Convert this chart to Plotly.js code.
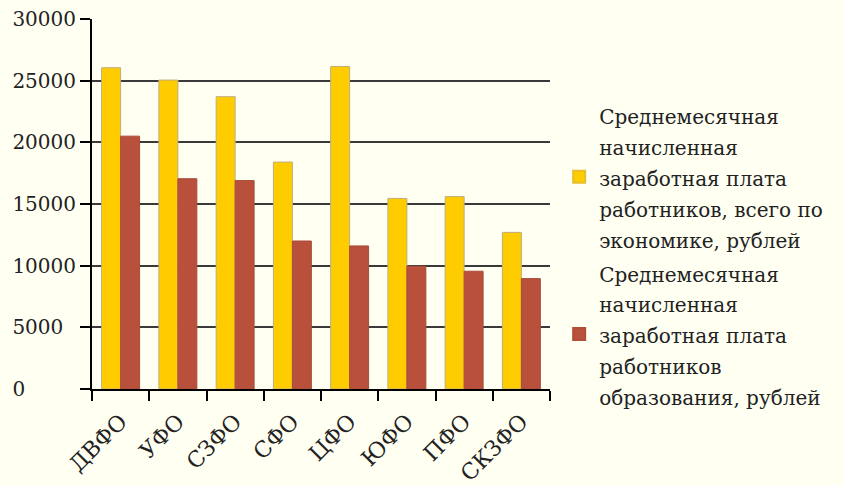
<!DOCTYPE html>
<html>
<head>
<meta charset="utf-8">
<script src="https://cdn.plot.ly/plotly-3.0.1.min.js"></script>
<style>
html,body{margin:0;padding:0;background:#FFFFF2;}
#chart{width:844px;height:485px;}
</style>
</head>
<body>
<div id="chart"></div>
<script>
var categories = ["ДВФО", "УФО", "СЗФО", "СФО", "ЦФО", "ЮФО", "ПФО", "СКЗФО"];
var economyWage = [26050, 25050, 23700, 18400, 26150, 15450, 15600, 12700];
var educationWage = [20500, 17050, 16900, 12000, 11600, 9950, 9550, 8950];
var seriesNames = [
  ["Среднемесячная", "начисленная", "заработная плата", "работников, всего по", "экономике, рублей"],
  ["Среднемесячная", "начисленная", "заработная плата", "работников", "образования, рублей"]
];
var yTickValues = [0, 5000, 10000, 15000, 20000, 25000, 30000];
var yTickLabels = ["0", "5000", "10000", "15000", "20000", "25000", "30000"];

var FS = "\u2007";
function padLabel(s) { var out = s; while (out.length < 5) out += FS; return out; }
function legendText(lines) {
  return lines.map(function (l) { return '<span style="font-size:20px">' + l + '</span>'; }).join('<br>');
}

var traces = [
  {
    type: 'bar', x: categories, y: economyWage, showlegend: false,
    marker: { color: '#FFCC00', line: { color: '#BDAE7E', width: 1 } }
  },
  {
    type: 'bar', x: categories, y: educationWage, showlegend: false,
    marker: { color: '#B8503C', line: { color: '#A84C3A', width: 1 } }
  },
  {
    type: 'bar', x: [categories[0]], y: [null], name: legendText(seriesNames[0]),
    xaxis: 'x2', yaxis: 'y2', hoverinfo: 'skip',
    marker: { color: '#FFCC00', line: { color: '#E6BE2E', width: 2 } }
  },
  {
    type: 'bar', x: [categories[0]], y: [null], name: legendText(seriesNames[1]),
    xaxis: 'x2', yaxis: 'y2', hoverinfo: 'skip',
    marker: { color: '#B8503C', line: { color: '#B04E3B', width: 2 } }
  }
];

var layout = {
  width: 844, height: 485,
  paper_bgcolor: '#FFFFF2', plot_bgcolor: '#FFFFF2',
  margin: { l: 92, r: 294, t: 19, b: 96, pad: 0 },
  font: { family: 'DejaVu Serif, serif', size: 20, color: '#222222' },
  barmode: 'group', bargap: 0.337, bargroupgap: 0,
  showlegend: true,
  legend: {
    x: 1.02, xanchor: 'left', y: 0.36, yanchor: 'middle',
    font: { family: 'DejaVu Serif, serif', size: 23.7, color: '#222222' },
    bgcolor: 'rgba(0,0,0,0)', tracegroupgap: 0, itemwidth: 30
  },
  xaxis: {
    type: 'category', tickangle: -45, tickson: 'boundaries',
    ticks: 'outside', ticklen: 10, tickwidth: 2, tickcolor: '#000',
    showline: true, linecolor: '#000', linewidth: 2,
    showgrid: false, zeroline: false, ticklabelstandoff: 9,
    tickfont: { family: 'DejaVu Serif, serif', size: 22, color: '#222' }
  },
  yaxis: {
    range: [0, 30000], tickvals: yTickValues, ticktext: yTickLabels.map(padLabel),
    ticks: 'outside', ticklen: 10, tickwidth: 2, tickcolor: '#000',
    showline: true, linecolor: '#000', linewidth: 2,
    showgrid: true, gridcolor: '#3a3a3a', gridwidth: 2, zeroline: false,
    tickfont: { family: 'DejaVu Serif, serif', size: 20, color: '#222' }
  },
  xaxis2: { type: 'category', overlaying: 'x', visible: false, showgrid: false, zeroline: false },
  yaxis2: { overlaying: 'y', visible: false, range: [0, 1], showgrid: false, zeroline: false }
};

Plotly.newPlot('chart', traces, layout, { displayModeBar: false, staticPlot: true });
</script>
</body>
</html>
